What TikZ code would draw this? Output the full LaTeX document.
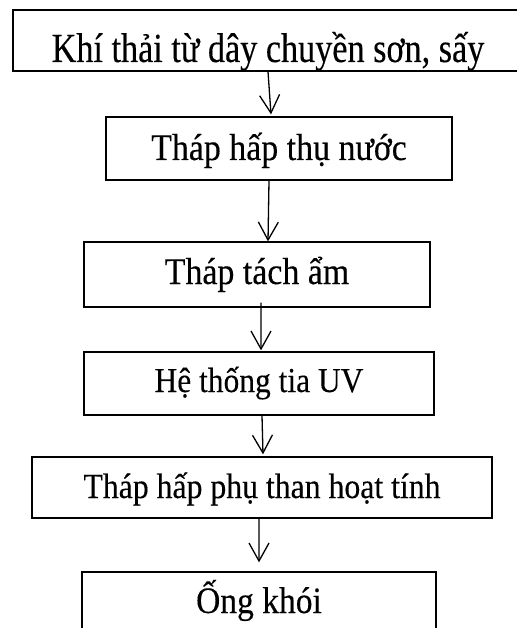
\documentclass[tikz,border=0pt]{standalone}
\usepackage{fontspec}
\setmainfont[FakeStretch=0.9, FakeBold=0.25]{Liberation Serif}
\newfontfamily\headfont[FakeStretch=0.825, FakeBold=0.25]{Liberation Serif}
\usetikzlibrary{arrows.meta}
\tikzset{
  stage/.style={draw, line width=1.3bp, inner sep=0pt, anchor=base,
    font=\fontsize{37.8}{42}\selectfont},
  flow/.style={line width=1.3bp, -{Straight Barb[length=18bp, width=20bp, line width=1.3bp]}}
}
\begin{document}
\begin{tikzpicture}[x=1bp, y=-1bp]
\useasboundingbox (0,0) rectangle (517,628);
% process stages, top to bottom (anchored at the text baseline)
\node[stage, font=\headfont\fontsize{41.6}{46}\selectfont, minimum width=510bp, text height=52bp, text depth=9bp]  (s1) at (268,62)  {Khí thải từ dây chuyền sơn, sấy};
\node[stage, minimum width=346bp, text height=43bp, text depth=20bp] (s2) at (279,160) {Tháp hấp thụ nước};
\node[stage, minimum width=346bp, text height=42bp, text depth=23bp] (s3) at (257,284) {Tháp tách ẩm};
\node[stage, font=\fontsize{35.1}{40}\selectfont, minimum width=350bp, text height=40bp, text depth=23bp] (s4) at (259,392) {Hệ thống tia UV};
\node[stage, font=\fontsize{35.4}{40}\selectfont, minimum width=460bp, text height=41bp, text depth=20bp] (s5) at (262,498) {Tháp hấp phụ than hoạt tính};
\node[stage, font=\fontsize{37.4}{42}\selectfont, minimum width=354bp, text height=41bp, text depth=27bp] (s6) at (259,613) {Ống khói};
% connectors
\draw[flow] (s1.south) -- ([xshift=-8bp, yshift=2bp]s2.north);
\draw[flow] ([xshift=-10bp]s2.south) -- ([xshift=11bp]s3.north);
\draw[flow] ([xshift=4bp,yshift=5bp]s3.south) -- ([xshift=2bp,yshift=1bp]s4.north);
\draw[flow] ([xshift=3bp]s4.south) -- ([xshift=1bp,yshift=2bp]s5.north);
\draw[flow] ([xshift=-3bp]s5.south) -- ([yshift=9bp]s6.north);
\end{tikzpicture}
\end{document}
